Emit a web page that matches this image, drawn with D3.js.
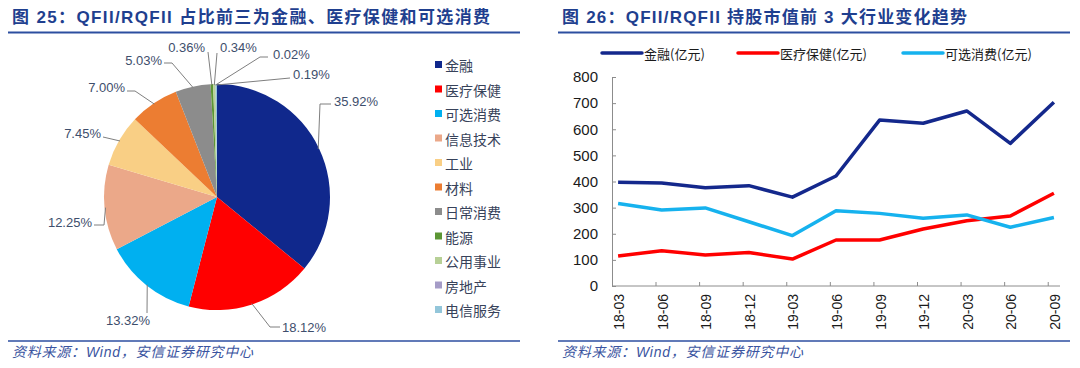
<!DOCTYPE html>
<html>
<head>
<meta charset="utf-8">
<script src="https://cdn.jsdelivr.net/npm/d3@7"></script>
<style>
  body { margin: 0; background: #fff; }
  svg { display: block; font-family: "Liberation Sans", Arial, "Noto Sans CJK SC", sans-serif; }
</style>
</head>
<body>
<div id="chart"></div>
<script>
// Pie data (figure 25)
const sectors = ["金融", "医疗保健", "可选消费", "信息技术", "工业", "材料", "日常消费", "能源", "公用事业", "房地产", "电信服务"];
const shares = [35.92, 18.12, 13.32, 12.25, 7.45, 7.00, 5.03, 0.36, 0.34, 0.02, 0.19];
const sectorColors = ["#10288c", "#ff0000", "#00b0f0", "#eba889", "#f9cf85", "#ec7d32", "#8c8c8c", "#5c9634", "#b7d096", "#a59cc7", "#93c6da"];

// Line data (figure 26)
const quarters = ["18-03", "18-06", "18-09", "18-12", "19-03", "19-06", "19-09", "19-12", "20-03", "20-06", "20-09"];
const finance = [397, 394, 376, 384, 340, 421, 635, 623, 670, 546, 703];
const health = [115, 135, 119, 128, 103, 176, 176, 218, 250, 268, 355];
const consumer = [316, 291, 299, 246, 193, 288, 278, 259, 272, 225, 262];
const yTicks = [0, 100, 200, 300, 400, 500, 600, 700, 800];

const seriesNames = ["金融(亿元)", "医疗保健(亿元)", "可选消费(亿元)"];
const seriesColors = ["#14288c", "#ff0000", "#16b2ee"];

const W = 1080, H = 368;
const titleBlue = "#1f3f8f";

const svg = d3.select("#chart").append("svg")
    .attr("width", W).attr("height", H);
svg.append("rect").attr("width", W).attr("height", H).attr("fill", "#fff");

// ---- headers & footers
function frame(x0, x1, title, titleLen) {
    svg.append("text")
        .attr("x", x0 + 4).attr("y", 23)
        .attr("font-family", "'Liberation Sans', 'Noto Sans CJK SC', sans-serif")
        .attr("font-size", 17).attr("font-weight", "bold")
        .attr("fill", titleBlue)
        .attr("textLength", titleLen).attr("lengthAdjust", "spacing")
        .text(title);
    svg.append("line")
        .attr("x1", x0).attr("x2", x1).attr("y1", 32.5).attr("y2", 32.5)
        .attr("stroke", "#2c4ea0").attr("stroke-width", 2);
    svg.append("line")
        .attr("x1", x0).attr("x2", x1).attr("y1", 341).attr("y2", 341)
        .attr("stroke", "#2c4ea0").attr("stroke-width", 1.5);
    svg.append("text")
        .attr("x", x0 + 4).attr("y", 357)
        .attr("font-family", "'Liberation Sans', 'Noto Sans CJK SC', sans-serif")
        .attr("font-size", 14).attr("font-style", "italic")
        .attr("fill", "#3a54a0")
        .attr("textLength", 241).attr("lengthAdjust", "spacing")
        .text("资料来源：Wind，安信证券研究中心");
}
frame(8, 520, "图 25：QFII/RQFII 占比前三为金融、医疗保健和可选消费", 478);
frame(558, 1070, "图 26：QFII/RQFII 持股市值前 3 大行业变化趋势", 405);

// ---- pie
const cx = 217, cy = 197, R = 113;
const pieG = svg.append("g").attr("transform", `translate(${cx},${cy})`);
const pie = d3.pie().sort(null).value(d => d)(shares);
const arc = d3.arc().innerRadius(0).outerRadius(R);

pieG.selectAll("path.slice")
    .data(pie)
    .join("path")
    .attr("class", "slice")
    .attr("d", arc)
    .attr("fill", (d, i) => sectorColors[i]);

// label layout: leader elbow/end points and text placement, relative to pie centre
const labelLayout = [
    { pts: [[103, -93], [114, -93]], tx: 117, ty: -96, anchor: "start" },
    { pts: [[53, 130], [63, 130]], tx: 65, ty: 130, anchor: "start" },
    { pts: [[-70, 116]], tx: -67, ty: 123, anchor: "end" },
    { pts: [[-113, 28], [-123, 28]], tx: -125, ty: 25, anchor: "end" },
    { pts: [[-114, -60]], tx: -116, ty: -64, anchor: "end" },
    { pts: [[-82, -106], [-90, -106]], tx: -92, ty: -110, anchor: "end" },
    { pts: [[-45, -134], [-53, -134]], tx: -55, ty: -137, anchor: "end" },
    { pts: [[-9, -145]], tx: -12, ty: -150, anchor: "end" },
    { pts: [[0, -144]], tx: 3, ty: -150, anchor: "start" },
    { pts: [[43, -140], [51, -140]], tx: 56, ty: -143, anchor: "start" },
    { pts: [[73, -119]], tx: 76, ty: -123, anchor: "start" }
];

pie.forEach((d, i) => {
    const a = (d.startAngle + d.endAngle) / 2;
    const start = [Math.sin(a) * (R - 1), -Math.cos(a) * (R - 1)];
    const L = labelLayout[i];
    pieG.append("path")
        .attr("d", d3.line()([start].concat(L.pts)))
        .attr("fill", "none").attr("stroke", "#7f7f7f").attr("stroke-width", 1);
    pieG.append("text")
        .attr("x", L.tx).attr("y", L.ty)
        .attr("dominant-baseline", "central")
        .attr("text-anchor", L.anchor)
        .attr("font-size", 13).attr("fill", "#3e4e6c")
        .text(shares[i].toFixed(2) + "%");
});

// pie legend
const lg = svg.append("g").attr("transform", "translate(435,65)");
sectors.forEach((s, i) => {
    const row = lg.append("g").attr("transform", `translate(0,${i * 24.5})`);
    row.append("rect").attr("x", 0).attr("y", -4).attr("width", 7).attr("height", 7)
        .attr("fill", sectorColors[i]);
    row.append("text").attr("x", 10).attr("y", 0)
        .attr("dominant-baseline", "central")
        .attr("font-family", "'Noto Sans CJK SC', sans-serif")
        .attr("font-size", 14).attr("fill", "#37425a")
        .text(s);
});

// ---- line chart
const plotL = 612, plotR = 1060, plotT = 77, plotB = 286;
const x = d3.scalePoint().domain(quarters).range([plotL, plotR]).padding(0.14);
const y = d3.scaleLinear().domain([0, 800]).range([plotB, plotT]);

const yAxis = svg.append("g").attr("transform", `translate(${plotL},0)`)
    .call(d3.axisLeft(y).tickValues(yTicks).tickSize(-4).tickPadding(14));
yAxis.select(".domain").attr("stroke", "#8c8c8c");
yAxis.selectAll(".tick line").attr("stroke", "#8c8c8c");
yAxis.selectAll("text").attr("font-size", 15).attr("fill", "#1a1a1a")
    .attr("font-family", "'Liberation Sans', Arial, sans-serif");

// x axis line and ticks between categories
svg.append("line").attr("x1", plotL).attr("x2", plotR).attr("y1", plotB).attr("y2", plotB)
    .attr("stroke", "#8c8c8c");
svg.selectAll("line.xtick")
    .data(quarters.slice(0, -1))
    .join("line")
    .attr("class", "xtick")
    .attr("x1", d => x(d) + x.step() * 0.87).attr("x2", d => x(d) + x.step() * 0.87)
    .attr("y1", plotB).attr("y2", plotB - 4)
    .attr("stroke", "#8c8c8c");
svg.selectAll("text.xlab")
    .data(quarters)
    .join("text")
    .attr("class", "xlab")
    .attr("transform", d => `translate(${x(d) + 1},${plotB + 8}) rotate(-90)`)
    .attr("text-anchor", "end")
    .attr("dominant-baseline", "central")
    .attr("font-size", 14).attr("fill", "#1a1a1a")
    .attr("font-family", "'Liberation Sans', Arial, sans-serif")
    .text(d => d);

const line = d3.line().x((d, i) => x(quarters[i])).y(d => y(d));
[finance, health, consumer].forEach((s, k) => {
    svg.append("path")
        .datum(s)
        .attr("d", line)
        .attr("fill", "none")
        .attr("stroke", seriesColors[k])
        .attr("stroke-width", 3.5)
        .attr("stroke-linejoin", "round");
});

// line legend
const legX = [602, 738, 903];
seriesNames.forEach((n, k) => {
    svg.append("line").attr("x1", legX[k]).attr("x2", legX[k] + 40)
        .attr("y1", 53).attr("y2", 53)
        .attr("stroke", seriesColors[k]).attr("stroke-width", 3.5).attr("stroke-linecap", "round");
    svg.append("text").attr("x", legX[k] + 42).attr("y", 53)
        .attr("dominant-baseline", "central")
        .attr("font-family", "'Noto Sans CJK SC', sans-serif")
        .attr("font-size", 13).attr("fill", "#1a1a1a")
        .text(n);
});
</script>
</body>
</html>
